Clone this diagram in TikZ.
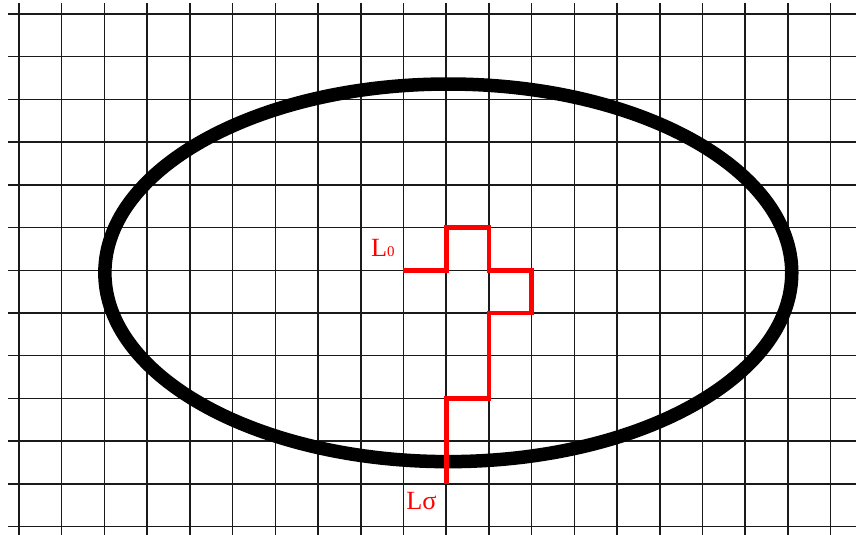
\documentclass[tikz,border=0pt]{standalone}
\usepackage{fontspec}
\setmainfont{Liberation Serif}
\usepackage{tikz}
\usetikzlibrary{positioning}
\definecolor{cGrid}{HTML}{1A1A1A}
\definecolor{cRed}{HTML}{FF0000}
\tikzset{
  gridline/.style={
    draw=cGrid, line width=1pt,
  },
  region/.style={
    draw=black, line width=9pt,
  },
  stairs/.style={
    draw=cRed, line width=3.2pt, line join=miter,
  },
  ptlabel/.style={
    text=cRed, inner sep=0pt, font=\fontsize{17.5}{19}\selectfont,
  },
}

\begin{document}
\begin{tikzpicture}[x=1cm,y=1cm]

\useasboundingbox[fill=white] (-0.445,-0.197) rectangle (19.594,12.327);

% ═══════════════════════════════════════════════════════════════
%  GRID
% ═══════════════════════════════════════════════════════════════
\foreach \i in {0,...,19}
  \draw[gridline] (\i,12.256) -- (\i,-0.197);
\foreach \j in {0,...,12}
  \draw[gridline] (-0.257,\j) -- (19.594,\j);

% ═══════════════════════════════════════════════════════════════
%  REGION
% ═══════════════════════════════════════════════════════════════
\draw[region] (10.05,5.94) ellipse [x radius=8.04cm, y radius=4.42cm];

% ═══════════════════════════════════════════════════════════════
%  LATTICE PATH
% ═══════════════════════════════════════════════════════════════
\coordinate (lstart) at (9,6);
\coordinate (lend)   at (10,1);

\draw[stairs] (lstart) -- ++(1,0) -- ++(0,1) -- ++(1,0) -- ++(0,-1)
  -- ++(1,0) -- ++(0,-1) -- ++(-1,0) -- ++(0,-2) -- ++(-1,0) -- (lend);

% ── end labels ──
\node[ptlabel, anchor=base east] (lzero) at (8.8,6.33)
  {L{\fontsize{10}{10}\selectfont 0}};
\node[ptlabel, anchor=base east] (lsigma) at (9.78,0.39)
  {Lσ};

\end{tikzpicture}
\end{document}
